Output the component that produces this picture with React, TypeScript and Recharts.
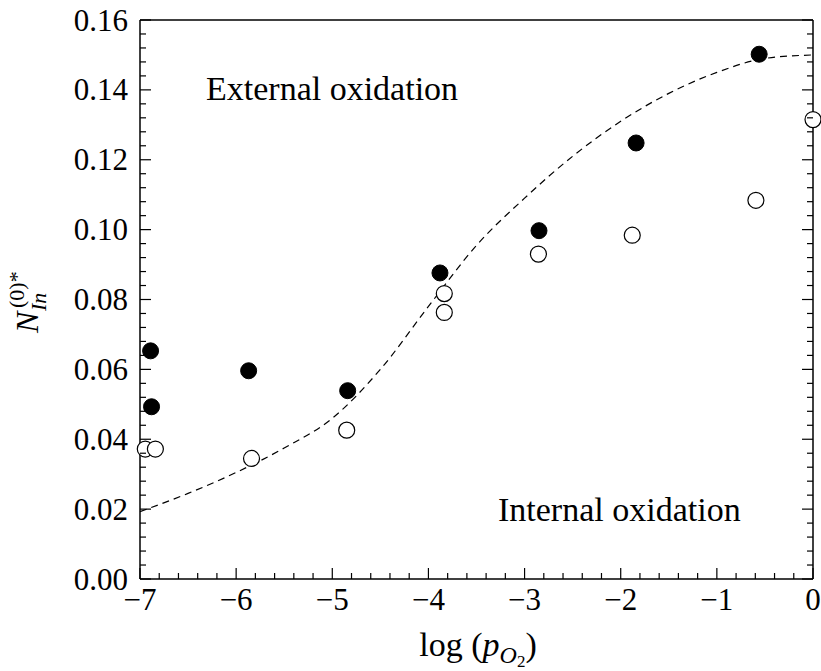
import React from "react";
import { ComposedChart, Line, Scatter, XAxis, YAxis } from "recharts";

// dashed model curve
const curveX = [-7, -6.5, -6, -5.5, -5, -4.5, -4, -3.5, -3, -2.5, -2, -1.5, -1, -0.5, 0];
const curveY = [0.0193, 0.0245, 0.0305, 0.0375, 0.046, 0.06, 0.078, 0.0955, 0.109, 0.121, 0.131, 0.139, 0.145, 0.149, 0.15];

// filled markers
const filledX = [-6.89, -6.88, -5.87, -4.84, -3.88, -2.85, -1.84, -0.56];
const filledY = [0.0653, 0.0493, 0.0596, 0.0539, 0.0876, 0.0997, 0.1248, 0.1502];

// open markers
const openX = [-6.945, -6.84, -5.84, -4.85, -3.835, -3.835, -2.856, -1.88, -0.594, 0];
const openY = [0.0372, 0.0372, 0.0345, 0.0426, 0.0817, 0.0763, 0.093, 0.0984, 0.1084, 0.1315];

const xMajor = [-7, -6, -5, -4, -3, -2, -1, 0];
const yMajor = [0, 0.02, 0.04, 0.06, 0.08, 0.1, 0.12, 0.14, 0.16];

const xTicks = Array.from({ length: 36 }, (_, i) => Math.round((-7 + i * 0.2) * 10) / 10);
const yTicks = Array.from({ length: 41 }, (_, i) => Math.round(i * 0.004 * 1000) / 1000);

const curve = curveX.map((x, i) => ({ x, y: curveY[i] }));
const filled = filledX.map((x, i) => ({ x, y: filledY[i] }));
const open = openX.map((x, i) => ({ x, y: openY[i] }));

const FONT = "'Liberation Serif', 'Times New Roman', serif";
const TICK = 1.2;

const css = `
svg text.serif-label { font-family: 'Liberation Serif', 'Times New Roman', serif !important; font-size: 31px !important; fill: #000 !important; }
`;

const isMajor = (v: number, list: number[]) => list.some((m) => Math.abs(m - v) < 1e-6);
const fmtX = (v: number) => (v < 0 ? `\u2212${Math.abs(v)}` : `${v}`);

function tickFactory(side: "bottom" | "top" | "left" | "right") {
  return (props: any) => {
    const { x, y, payload } = props;
    const v = payload.value;
    const major = side === "bottom" || side === "top" ? isMajor(v, xMajor) : isMajor(v, yMajor);
    const len = major ? 11 : 6;
    if (side === "bottom") {
      return (
        <g>
          <line x1={x} x2={x} y1={y} y2={y - len} stroke="#000" strokeWidth={TICK} />
          {major && (
            <text className="serif-label" x={x} y={y + 31} textAnchor="middle" fontFamily="Liberation Serif">
              {fmtX(v)}
            </text>
          )}
        </g>
      );
    }
    if (side === "top") {
      return <line x1={x} x2={x} y1={y} y2={y + len} stroke="#000" strokeWidth={TICK} />;
    }
    if (side === "left") {
      return (
        <g>
          <line x1={x} x2={x + len} y1={y} y2={y} stroke="#000" strokeWidth={TICK} />
          {major && (
            <text className="serif-label" x={x - 12} y={y + 10.5} textAnchor="end" fontFamily="Liberation Serif">
              {v.toFixed(2)}
            </text>
          )}
        </g>
      );
    }
    return <line x1={x} x2={x - len} y1={y} y2={y} stroke="#000" strokeWidth={TICK} />;
  };
}

const FilledDot = (p: any) => <circle cx={p.cx} cy={p.cy} r={8} fill="#000" stroke="#000" strokeWidth={1} />;
const OpenDot = (p: any) => <circle cx={p.cx} cy={p.cy} r={8} fill="#fff" stroke="#000" strokeWidth={1.2} />;

const frame = { stroke: "#000", strokeWidth: 1.5 };

export default function App() {
  return (
    <div style={{ position: "absolute", left: 0, top: 0, width: 821, height: 671, background: "#fff" }}>
      <style>{css}</style>
      <ComposedChart width={821} height={671} margin={{ top: 19, right: 7, bottom: 62, left: 80 }}>
        <XAxis
          xAxisId="b"
          type="number"
          dataKey="x"
          domain={[-7, 0]}
          ticks={xTicks}
          interval={0}
          tickSize={0}
          tickMargin={0}
          tickLine={false}
          axisLine={frame}
          tick={tickFactory("bottom")}
          height={30}
        />
        <XAxis
          xAxisId="t"
          orientation="top"
          type="number"
          domain={[-7, 0]}
          allowDataOverflow
          ticks={xTicks}
          interval={0}
          tickSize={0}
          tickMargin={0}
          tickLine={false}
          axisLine={frame}
          tick={tickFactory("top")}
          height={1}
        />
        <YAxis
          yAxisId="l"
          type="number"
          dataKey="y"
          domain={[0, 0.16]}
          ticks={yTicks}
          interval={0}
          tickSize={0}
          tickMargin={0}
          tickLine={false}
          axisLine={frame}
          tick={tickFactory("left")}
          width={60}
        />
        <YAxis
          yAxisId="r"
          orientation="right"
          type="number"
          domain={[0, 0.16]}
          allowDataOverflow
          ticks={yTicks}
          interval={0}
          tickSize={0}
          tickMargin={0}
          tickLine={false}
          axisLine={frame}
          tick={tickFactory("right")}
          width={1}
        />
        <Line
          xAxisId="b"
          yAxisId="l"
          data={curve}
          dataKey="y"
          type="monotone"
          stroke="#000"
          strokeWidth={1.2}
          strokeDasharray="7 5"
          dot={false}
          activeDot={false}
          isAnimationActive={false}
        />
        <Scatter xAxisId="b" yAxisId="l" data={filled} shape={FilledDot} isAnimationActive={false} />
        <Scatter xAxisId="b" yAxisId="l" data={open} shape={OpenDot} isAnimationActive={false} />
      </ComposedChart>
      <svg
        width={821}
        height={671}
        style={{ position: "absolute", left: 0, top: 0, pointerEvents: "none", fontFamily: FONT }}
        fill="#000"
      >
        <text x={206} y={100} fontSize={34}>External oxidation</text>
        <text x={498} y={521} fontSize={34}>Internal oxidation</text>
        <text x={478} y={656} fontSize={34} textAnchor="middle">
          log (<tspan fontStyle="italic">p</tspan>
          <tspan fontStyle="italic" fontSize={24} dy={7}>O</tspan>
          <tspan fontSize={17} dy={4}>2</tspan>
          <tspan dy={-11}>)</tspan>
        </text>
        <g transform="translate(38,333) rotate(-90)">
          <text x={0} y={0} fontSize={32} fontStyle="italic">N</text>
          <text x={25} y={-14} fontSize={22}>(0)*</text>
          <text x={22} y={8} fontSize={22} fontStyle="italic">In</text>
        </g>
      </svg>
    </div>
  );
}
